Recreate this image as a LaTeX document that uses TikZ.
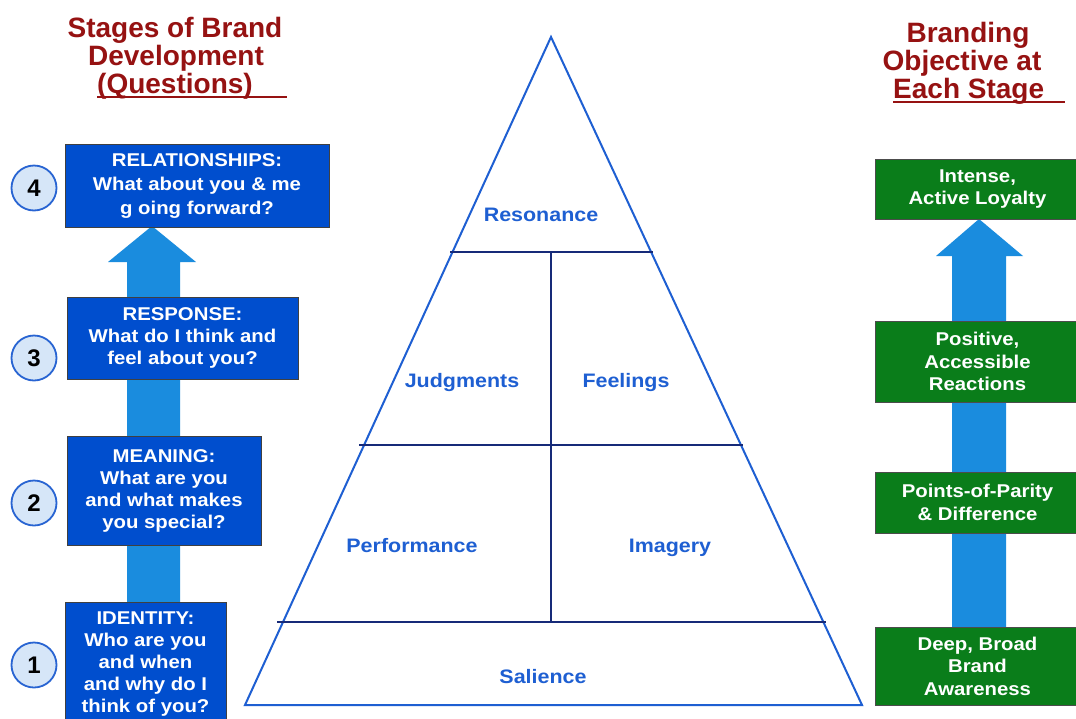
\documentclass[tikz,border=0pt]{standalone}
\usepackage{fontspec}
\setmainfont{Liberation Sans}
\newfontfamily\widefont{Liberation Sans}[FakeStretch=1.1]
\definecolor{titlered}{RGB}{150,18,18}
\definecolor{boxblue}{RGB}{0,78,206}
\definecolor{boxgreen}{RGB}{10,125,26}
\definecolor{arrowblue}{RGB}{26,140,222}
\definecolor{pyrblue}{RGB}{30,95,210}
\definecolor{navy}{RGB}{22,42,120}
\definecolor{circfill}{RGB}{214,230,248}
\definecolor{circline}{RGB}{40,100,210}
\begin{document}
\begin{tikzpicture}[x=1pt,y=-1pt,
  title/.style={text=titlered, font=\bfseries\fontsize{28}{28}\selectfont, inner sep=0pt, anchor=base},
  bluebox/.style={draw=black!75, line width=0.8pt, fill=boxblue, text=white, align=center, inner sep=0pt,
    font=\widefont\bfseries\fontsize{18.5}{22}\selectfont},
  greenbox/.style={draw=black!70, line width=0.8pt, fill=boxgreen, text=white, align=center, inner sep=0pt,
    font=\widefont\bfseries\fontsize{18.5}{22.5}\selectfont},
  numcirc/.style={circle, draw=circline, line width=1.8pt, fill=circfill, minimum size=45pt, inner sep=0pt,
    font=\bfseries\fontsize{24}{24}\selectfont},
  pyrlabel/.style={text=pyrblue, font=\widefont\bfseries\fontsize{19.5}{22}\selectfont, inner sep=0pt, anchor=base},
  bigarrow/.style={fill=arrowblue, draw=none}]
\clip (0,0) rectangle (1076,718);
\fill[white] (0,0) rectangle (1076,718);

% titles
\node[title] (tl1) at (175,37) {Stages of Brand};
\node[title] (tl2) at (176,65) {Development};
\node[title, anchor=base west] (tl3) at (97,93) {(Questions)};
\draw[titlered, line width=2pt] (tl3.base west) ++(0,4) -- ++(190,0);

\node[title] (tr1) at (968,42) {Branding};
\node[title] (tr2) at (962,70) {Objective at};
\node[title, anchor=base west] (tr3) at (893,98) {Each Stage};
\draw[titlered, line width=2pt] (tr3.base west) ++(0,4) -- ++(172,0);

% left arrow
\path[bigarrow] (127,602) -- (127,262) -- (108,262) -- (152,226) -- (196,262) -- (180,262) -- (180,602) -- cycle;
% right arrow
\path[bigarrow] (952,627) -- (952,256) -- (936,256) -- (979,219) -- (1023,256) -- (1006,256) -- (1006,627) -- cycle;

% left boxes
\node[bluebox, minimum width=264pt, minimum height=83pt, font=\widefont\bfseries\fontsize{18.5}{24}\selectfont] (b4) at (197,185.5)
  {RELATIONSHIPS:\\What about you \& me\\g oing forward?};
\node[bluebox, minimum width=231pt, minimum height=82pt] (b3) at (182.5,338)
  {RESPONSE:\\What do I think and\\feel about you?};
\node[bluebox, minimum width=194pt, minimum height=109pt] (b2) at (164,490.5)
  {MEANING:\\What are you\\and what makes\\you special?};
\node[bluebox, minimum width=161pt, minimum height=124pt] (b1) at (145.5,664.5)
  {IDENTITY:\\Who are you\\and when\\and why do I\\think of you?};

% circles
\node[numcirc] (c4) at (34,188) {4};
\node[numcirc] (c3) at (34,358) {3};
\node[numcirc] (c2) at (34,503) {2};
\node[numcirc] (c1) at (34,665) {1};

% right boxes
\node[greenbox, minimum width=205pt, minimum height=60pt] (g4) at (977.5,189)
  {Intense,\\Active Loyalty};
\node[greenbox, minimum width=205pt, minimum height=81pt] (g3) at (977.5,361.5)
  {Positive,\\Accessible\\Reactions};
\node[greenbox, minimum width=205pt, minimum height=61pt] (g2) at (977.5,502.5)
  {Points-of-Parity\\\& Difference};
\node[greenbox, minimum width=205pt, minimum height=78pt] (g1) at (977.5,666)
  {Deep, Broad\\Brand\\Awareness};

% pyramid
\coordinate (apex) at (551,37);
\coordinate (bl) at (245,705);
\coordinate (br) at (862,705);
\draw[pyrblue, line width=2pt, line join=miter] (apex) -- (br) -- (bl) -- cycle;
\coordinate (h1l) at (450,252); \coordinate (h1r) at (653,252);
\coordinate (h2l) at (359,445); \coordinate (h2r) at (743,445);
\coordinate (h3l) at (277,622); \coordinate (h3r) at (826,622);
\coordinate (vt) at (551,252); \coordinate (vb) at (551,622);
\draw[navy, line width=2.5pt] (h1l) -- (h1r);
\draw[navy, line width=2.5pt] (h2l) -- (h2r);
\draw[navy, line width=2.5pt] (h3l) -- (h3r);
\draw[navy, line width=2.5pt] (vt) -- (vb);

\node[pyrlabel] (lres) at (541,221) {Resonance};
\node[pyrlabel] (ljud) at (462,387) {Judgments};
\node[pyrlabel] (lfee) at (626,387) {Feelings};
\node[pyrlabel] (lper) at (412,552) {Performance};
\node[pyrlabel] (lima) at (670,552) {Imagery};
\node[pyrlabel] (lsal) at (543,683) {Salience};
\end{tikzpicture}
\end{document}
